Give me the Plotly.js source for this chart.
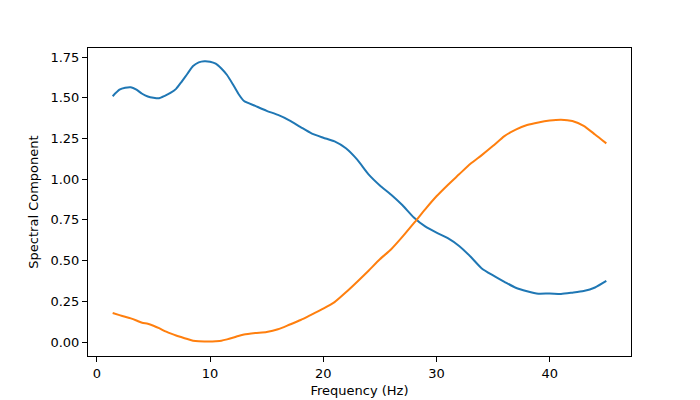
<!DOCTYPE html>
<html>
<head>
<meta charset="utf-8">
<script src="https://cdn.plot.ly/plotly-3.0.1.min.js"></script>
<style>html,body{margin:0;padding:0;background:#fff;}#plot{width:700px;height:400px;}</style>
</head>
<body>
<div id="plot"></div>
<script>
var freq = [1.4, 2, 2.5, 3, 3.5, 4, 4.5, 5, 5.5, 6, 6.5, 7, 7.5, 8, 8.5, 9, 9.5, 10, 10.5, 11, 11.5, 12, 12.5, 13, 14, 15, 16, 17, 18, 19, 20, 21, 22, 23, 24, 25, 26, 27, 28, 29, 30, 31, 32, 33, 34, 35, 36, 37, 38, 39, 40, 41, 42, 43, 44, 45];
var component1 = [1.51, 1.55, 1.562, 1.565, 1.55, 1.525, 1.508, 1.50, 1.497, 1.512, 1.53, 1.555, 1.60, 1.648, 1.695, 1.718, 1.725, 1.722, 1.71, 1.68, 1.64, 1.585, 1.525, 1.48, 1.45, 1.42, 1.395, 1.362, 1.32, 1.28, 1.255, 1.232, 1.19, 1.12, 1.03, 0.962, 0.905, 0.84, 0.765, 0.71, 0.672, 0.638, 0.59, 0.525, 0.452, 0.409, 0.37, 0.333, 0.312, 0.297, 0.298, 0.295, 0.303, 0.313, 0.335, 0.375];
var component2 = [0.178, 0.165, 0.155, 0.145, 0.132, 0.118, 0.112, 0.10, 0.085, 0.067, 0.053, 0.04, 0.029, 0.018, 0.008, 0.004, 0.003, 0.003, 0.005, 0.008, 0.016, 0.026, 0.037, 0.046, 0.055, 0.062, 0.078, 0.106, 0.135, 0.17, 0.205, 0.245, 0.305, 0.37, 0.438, 0.508, 0.57, 0.647, 0.73, 0.815, 0.895, 0.965, 1.03, 1.095, 1.148, 1.205, 1.265, 1.305, 1.333, 1.349, 1.36, 1.365, 1.357, 1.328, 1.275, 1.22];
var xTicks = [0, 10, 20, 30, 40];
var yTicks = [0.00, 0.25, 0.50, 0.75, 1.00, 1.25, 1.50, 1.75];
var yTickText = ['0.00', '0.25', '0.50', '0.75', '1.00', '1.25', '1.50', '1.75'];

var traces = [
  {x: freq, y: component1, type: 'scatter', mode: 'lines', line: {color: '#1f77b4', width: 2, shape: 'spline', smoothing: 0.6}, hoverinfo: 'none'},
  {x: freq, y: component2, type: 'scatter', mode: 'lines', line: {color: '#ff7f0e', width: 2, shape: 'spline', smoothing: 0.6}, hoverinfo: 'none'}
];
var axisCommon = {
  showline: true, mirror: true, linecolor: '#000', linewidth: 1,
  ticks: 'outside', ticklen: 5, tickwidth: 1, tickcolor: '#000',
  showgrid: false, zeroline: false,
  tickfont: {family: 'DejaVu Sans', size: 13, color: '#000'}
};
var layout = {
  width: 700, height: 400,
  margin: {l: 88, r: 69, t: 48, b: 44},
  paper_bgcolor: '#fff', plot_bgcolor: '#fff',
  showlegend: false,
  font: {family: 'DejaVu Sans', size: 13, color: '#000'},
  xaxis: Object.assign({}, axisCommon, {
    range: [-0.78, 47.18], tickvals: xTicks, ticktext: xTicks.map(String),
    title: {text: 'Frequency (Hz)', font: {family: 'DejaVu Sans', size: 13, color: '#000'}, standoff: 6}
  }),
  yaxis: Object.assign({}, axisCommon, {
    range: [-0.086, 1.806], tickvals: yTicks, ticktext: yTickText,
    title: {text: 'Spectral Component', font: {family: 'DejaVu Sans', size: 13, color: '#000'}, standoff: 8}
  })
};
Plotly.newPlot('plot', traces, layout, {displayModeBar: false, staticPlot: true});
</script>
</body>
</html>
